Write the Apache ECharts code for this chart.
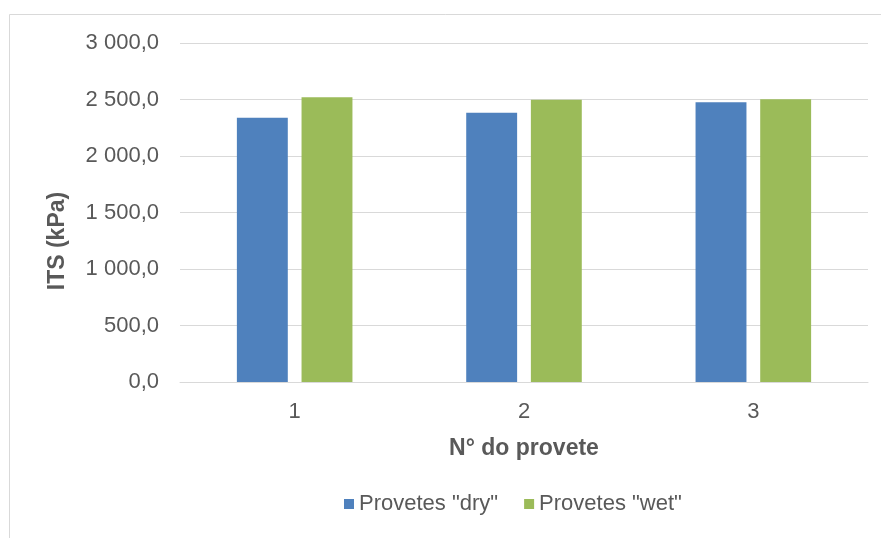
<!DOCTYPE html>
<html>
<head>
<meta charset="utf-8">
<script src="https://cdn.jsdelivr.net/npm/echarts@6/dist/echarts.min.js"></script>
<style>
  html, body { margin: 0; padding: 0; background: #ffffff; }
  #chart { width: 881px; height: 538px; }
</style>
</head>
<body>
<div id="chart"></div>
<script>
// Specimen numbers and indirect tensile strength (kPa)
const categories = ['1', '2', '3'];
const dryValues = [2338, 2382, 2476];
const wetValues = [2520, 2497, 2503];
const seriesNames = ['Provetes "dry"', 'Provetes "wet"'];
const xTitle = 'N° do provete';
const yTitle = 'ITS (kPa)';

// Portuguese-style number: space thousands separator, comma decimal
function fmt(v) {
  const s = v.toFixed(1).split('.');
  const int = s[0].replace(/\B(?=(\d{3})+(?!\d))/g, ' ');
  return int + ',' + s[1];
}

const chart = echarts.init(document.getElementById('chart'), null, { renderer: 'canvas' });
const font = '"Liberation Sans", Arial, sans-serif';
const textGrey = '#595959';

chart.setOption({
  animation: false,
  backgroundColor: '#ffffff',
  textStyle: { fontFamily: font },
  graphic: [
    {
      // chart area frame
      type: 'rect',
      shape: { x: 9.5, y: 14.5, width: 900, height: 600 },
      style: { fill: 'none', stroke: '#d9d9d9', lineWidth: 1 }
    },
    {
      // vertical axis title, centred on the chart area
      type: 'text',
      x: 58, y: 241,
      rotation: Math.PI / 2,
      style: {
        text: yTitle,
        fill: textGrey,
        font: 'bold 23px ' + font,
        textAlign: 'center',
        textVerticalAlign: 'middle'
      }
    }
  ],
  grid: { left: 180, right: 13, top: 43, bottom: 156 },
  legend: {
    left: 339, top: 488,
    itemWidth: 10, itemHeight: 10, itemGap: 26,
    icon: 'rect',
    textStyle: { color: textGrey, fontSize: 22, fontFamily: font },
    data: seriesNames
  },
  xAxis: {
    type: 'category',
    data: categories,
    name: xTitle,
    nameLocation: 'middle',
    nameGap: 55,
    nameTextStyle: { color: textGrey, fontSize: 23, fontWeight: 'bold', fontFamily: font },
    axisLine: { lineStyle: { color: '#d9d9d9', width: 1 } },
    axisTick: { show: false },
    axisLabel: { color: textGrey, fontSize: 22, margin: 19, fontFamily: font }
  },
  yAxis: {
    type: 'value',
    min: 0, max: 3000, interval: 500,
    axisLine: { show: false },
    axisTick: { show: false },
    splitLine: { lineStyle: { color: '#d9d9d9', width: 1 } },
    axisLabel: { color: textGrey, fontSize: 22, margin: 21, fontFamily: font, formatter: fmt }
  },
  series: [
    {
      name: seriesNames[0], type: 'bar', data: dryValues,
      barWidth: '22.2%', barGap: '27%',
      itemStyle: { color: '#4f81bd' }
    },
    {
      name: seriesNames[1], type: 'bar', data: wetValues,
      barWidth: '22.2%', barGap: '27%',
      itemStyle: { color: '#9bbb59' }
    }
  ]
});
</script>
</body>
</html>
